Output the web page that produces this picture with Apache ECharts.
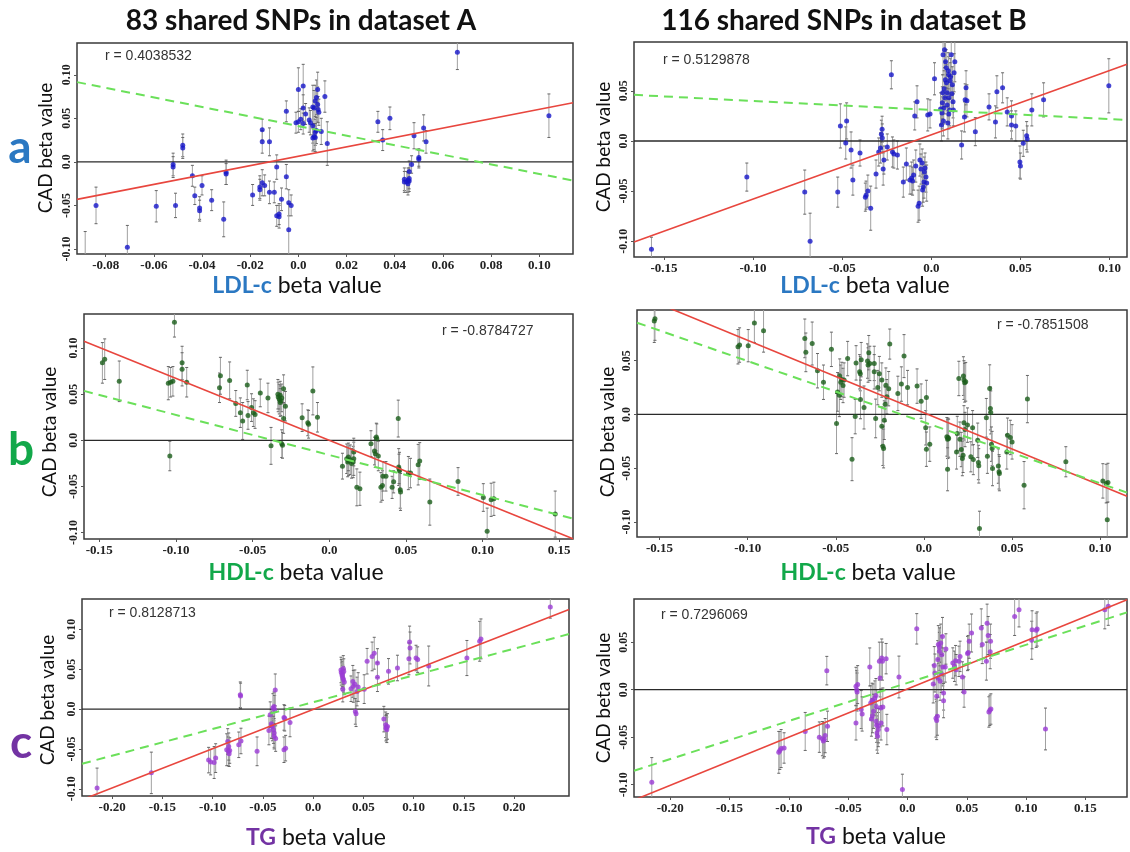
<!DOCTYPE html>
<html>
<head>
<meta charset="utf-8">
<script src="https://cdn.jsdelivr.net/npm/echarts@6/dist/echarts.min.js"></script>
<style>html,body{margin:0;padding:0;background:#fff}#c{width:1130px;height:852px}</style>
</head>
<body>
<div id="c"></div>
<script>
// ---- data: [x beta, CAD beta, CAD SE] ----
const A_LDL = [
[-0.084,-0.050,0.021],[-0.071,-0.098,0.025],[-0.059,-0.051,0.018],[-0.052,-0.003,0.013],[-0.052,-0.006,0.012],
[-0.051,-0.050,0.014],[-0.048,0.019,0.013],[-0.048,0.016,0.012],[-0.044,-0.016,0.012],[-0.043,-0.039,0.010],
[-0.041,-0.053,0.013],[-0.041,-0.056,0.012],[-0.040,-0.027,0.011],[-0.036,-0.044,0.012],[-0.031,-0.066,0.020],
[-0.030,-0.012,0.014],[-0.030,-0.014,0.012],[-0.019,-0.038,0.012],[-0.016,-0.029,0.013],[-0.016,-0.032,0.012],
[-0.015,-0.024,0.015],[-0.015,0.037,0.012],[-0.015,0.023,0.013],[-0.012,0.023,0.016],[-0.012,-0.035,0.013],
[-0.010,-0.035,0.012],[-0.009,-0.062,0.012],[-0.008,-0.063,0.013],[-0.008,-0.060,0.012],[-0.009,-0.006,0.014],
[-0.007,-0.043,0.013],[-0.005,-0.017,0.014],[-0.005,0.058,0.012],[-0.004,-0.047,0.015],[-0.003,-0.050,0.012],
[-0.004,-0.078,0.030],[-0.001,0.045,0.012],[0.000,0.046,0.012],[0.000,0.083,0.025],[0.001,0.049,0.012],
[0.002,0.087,0.025],[0.002,0.062,0.015],[0.003,0.055,0.012],[0.002,0.044,0.012],[0.006,0.063,0.025],
[0.0065,0.062,0.020],[0.007,0.070,0.018],[0.008,0.066,0.020],[0.0075,0.074,0.020],[0.006,0.0415,0.020],
[0.006,0.0275,0.015],[0.0065,0.029,0.015],[0.007,0.034,0.015],[0.0075,0.036,0.015],[0.008,0.083,0.020],
[0.0085,0.057,0.015],[0.0095,0.035,0.015],[0.011,0.075,0.018],[0.012,0.021,0.025],[0.033,0.046,0.012],
[0.035,0.025,0.012],[0.038,0.050,0.013],[0.044,-0.020,0.013],[0.045,-0.023,0.012],[0.0455,-0.021,0.014],
[0.046,-0.022,0.012],[0.0455,-0.025,0.013],[0.044,-0.023,0.012],[0.046,-0.011,0.012],[0.047,-0.003,0.010],
[0.048,0.030,0.015],[0.050,0.003,0.010],[0.050,0.005,0.010],[0.052,0.039,0.015],[0.053,0.023,0.013],
[0.066,0.126,0.020],[0.104,0.053,0.025],[0.0045,0.048,0.014],[0.005,0.045,0.014],[0.0082,0.060,0.015],
[-0.014,-0.027,0.012],[0.046,-0.019,0.012],[0.007,0.028,0.016],[-0.0885,-0.130,0.050]
];
const B_LDL = [
[-0.157,-0.108,0.012],[-0.1035,-0.036,0.014],[-0.071,-0.051,0.022],[-0.068,-0.100,0.028],[-0.0525,-0.051,0.015],
[-0.051,0.015,0.022],[-0.048,-0.002,0.016],[-0.0475,0.020,0.018],[-0.045,-0.009,0.018],[-0.044,-0.039,0.015],
[-0.040,-0.012,0.013],[-0.037,-0.056,0.014],[-0.0366,-0.054,0.014],[-0.0356,-0.050,0.016],[-0.034,-0.067,0.022],
[-0.031,-0.033,0.014],[-0.0295,-0.011,0.014],[-0.0285,-0.007,0.015],[-0.028,0.0067,0.014],[-0.0276,0.0117,0.013],
[-0.027,-0.028,0.016],[-0.0266,-0.019,0.014],[-0.0247,-0.006,0.013],[-0.0224,0.066,0.014],[-0.0218,-0.011,0.015],
[-0.021,-0.013,0.014],[-0.019,-0.014,0.014],[-0.0157,-0.041,0.015],[-0.014,-0.023,0.016],[-0.011,-0.037,0.016],
[-0.0105,-0.040,0.014],[-0.0099,-0.034,0.015],[-0.0093,0.025,0.014],[-0.0087,-0.025,0.016],[-0.008,0.039,0.016],
[-0.0074,-0.065,0.016],[-0.0068,-0.062,0.017],[-0.0064,-0.019,0.016],[-0.0051,-0.022,0.014],[-0.0049,-0.049,0.016],
[-0.0045,-0.046,0.015],[-0.0041,-0.041,0.016],[-0.0039,-0.031,0.015],[-0.0035,-0.027,0.015],[-0.003,-0.036,0.015],
[-0.0026,-0.042,0.018],[-0.002,0.026,0.016],[-0.0007,0.027,0.014],[0.0018,0.062,0.016],[0.0057,0.016,0.016],
[0.006,0.028,0.016],[0.0064,0.048,0.018],[0.0066,0.086,0.020],[0.0074,0.091,0.018],[0.008,0.079,0.020],
[0.0084,0.073,0.018],[0.0085,0.058,0.018],[0.0089,0.048,0.018],[0.0089,0.036,0.017],[0.0093,0.018,0.016],
[0.0097,0.066,0.018],[0.0099,0.043,0.018],[0.0103,0.031,0.016],[0.0108,0.064,0.018],[0.0112,0.086,0.020],
[0.0118,0.056,0.018],[0.0122,0.039,0.016],[0.0132,0.079,0.020],[0.0124,0.031,0.016],[0.007,0.033,0.016],
[0.0076,0.043,0.016],[0.0068,0.020,0.015],[0.0105,0.060,0.018],[0.0095,0.070,0.018],[0.017,-0.004,0.014],
[0.0186,0.024,0.015],[0.019,0.041,0.016],[0.0195,0.053,0.017],[0.020,0.040,0.016],[0.0247,0.0093,0.014],
[0.0324,0.034,0.013],[0.036,0.019,0.016],[0.0368,0.049,0.016],[0.040,0.053,0.015],[0.0426,0.029,0.014],
[0.045,0.025,0.015],[0.045,0.016,0.014],[0.0474,0.015,0.015],[0.0497,-0.021,0.016],[0.050,-0.025,0.013],
[0.0516,-0.0023,0.013],[0.0535,0.0053,0.014],[0.0538,0.002,0.013],[0.0564,0.031,0.016],[0.063,0.041,0.017],
[0.0996,0.055,0.027],[0.0072,0.052,0.018],[0.0115,0.047,0.017],[0.0062,0.038,0.016],[-0.0058,-0.028,0.015],
[-0.012,-0.039,0.014],[0.0128,0.068,0.019],[0.0079,0.061,0.018],[-0.0275,0.003,0.014],[0.0052,0.032,0.016],
[0.0098,0.027,0.015]
];
const A_HDL = [
[-0.148,0.084,0.022],[-0.1465,0.088,0.022],[-0.137,0.064,0.022],[-0.105,0.062,0.018],[-0.1035,0.063,0.016],
[-0.102,0.064,0.016],[-0.104,-0.017,0.016],[-0.101,0.128,0.016],[-0.096,0.084,0.018],[-0.096,0.077,0.018],
[-0.093,0.063,0.016],[-0.0716,0.057,0.016],[-0.071,0.070,0.020],[-0.065,0.065,0.020],[-0.061,0.040,0.014],
[-0.058,0.030,0.016],[-0.0565,0.021,0.020],[-0.0535,0.060,0.016],[-0.053,0.027,0.015],[-0.0507,0.0355,0.015],
[-0.0495,0.030,0.015],[-0.0484,0.028,0.015],[-0.045,0.0514,0.015],[-0.040,0.046,0.016],[-0.038,-0.006,0.020],
[-0.0333,0.047,0.016],[-0.0326,0.0446,0.016],[-0.032,0.049,0.015],[-0.0316,0.043,0.016],[-0.031,0.046,0.015],
[-0.031,-0.0036,0.015],[-0.0305,-0.0054,0.014],[-0.0298,0.056,0.015],[-0.0298,0.0236,0.016],[-0.0286,0.037,0.016],
[-0.0177,0.0246,0.015],[-0.014,0.019,0.014],[-0.0135,0.0174,0.015],[-0.0107,0.0536,0.026],[-0.0077,0.025,0.016],
[0.0086,-0.028,0.014],[0.0114,-0.020,0.016],[0.012,-0.0235,0.016],[0.0127,-0.022,0.016],[0.0137,-0.021,0.016],
[0.0156,-0.0235,0.017],[0.016,-0.020,0.018],[0.016,-0.0127,0.015],[0.018,-0.051,0.020],[0.020,-0.0525,0.018],
[0.0272,-0.0036,0.014],[0.0295,-0.0116,0.015],[0.030,-0.0145,0.015],[0.0307,0.0036,0.015],[0.031,0.0018,0.016],
[0.032,-0.017,0.016],[0.0337,-0.051,0.016],[0.0347,-0.049,0.016],[0.035,-0.039,0.016],[0.037,-0.039,0.016],
[0.041,-0.051,0.012],[0.042,-0.045,0.012],[0.045,0.0236,0.020],[0.0453,-0.029,0.020],[0.0458,-0.033,0.020],
[0.0463,-0.0536,0.020],[0.0465,-0.056,0.020],[0.0516,-0.0355,0.018],[0.053,-0.0355,0.016],[0.058,-0.0264,0.022],
[0.059,-0.0225,0.020],[0.0656,-0.067,0.025],[0.084,-0.0446,0.015],[0.1005,-0.062,0.015],[0.103,-0.0985,0.025],
[0.1056,-0.0645,0.018],[0.1074,-0.0634,0.018],[0.1474,-0.080,0.025],[-0.0335,0.050,0.016],[0.0125,-0.018,0.015],
[0.0455,-0.031,0.016],[0.0145,-0.025,0.016],[-0.032,0.041,0.015]
];
const B_HDL = [
[-0.153,0.087,0.02],[-0.1526,0.089,0.02],[-0.1055,0.063,0.016],[-0.1046,0.0646,0.016],[-0.0997,0.064,0.015],
[-0.0962,0.085,0.018],[-0.091,0.078,0.02],[-0.0676,0.0708,0.018],[-0.067,0.0578,0.018],[-0.0634,0.066,0.02],
[-0.0604,0.0407,0.016],[-0.057,0.030,0.016],[-0.0525,0.0606,0.016],[-0.0496,-0.0084,0.028],[-0.049,0.021,0.018],
[-0.048,0.018,0.02],[-0.0478,0.0357,0.016],[-0.0472,0.030,0.016],[-0.0466,0.0326,0.016],[-0.0459,0.027,0.016],
[-0.0453,0.032,0.016],[-0.0433,0.052,0.016],[-0.0408,-0.0416,0.02],[-0.039,-0.002,0.016],[-0.0385,0.048,0.016],
[-0.0365,0.0397,0.016],[-0.0361,0.038,0.016],[-0.036,0.014,0.018],[-0.0356,0.051,0.016],[-0.034,0.0065,0.02],
[-0.032,0.0497,0.016],[-0.0317,0.046,0.016],[-0.0313,0.0575,0.016],[-0.0307,0.0475,0.016],[-0.0282,0.0475,0.016],
[-0.0282,0.0397,0.016],[-0.0274,-0.0037,0.018],[-0.0262,0.025,0.016],[-0.0253,0.038,0.016],[-0.0239,0.032,0.016],
[-0.0239,-0.011,0.018],[-0.0233,-0.0295,0.018],[-0.0229,-0.0317,0.018],[-0.0225,-0.0053,0.018],[-0.022,0.0096,0.016],
[-0.0216,0.0273,0.016],[-0.021,0.0165,0.016],[-0.020,0.024,0.016],[-0.0194,0.0655,0.014],[-0.0148,0.0196,0.016],
[-0.0128,0.0283,0.016],[-0.0113,0.0543,0.02],[-0.0093,0.025,0.016],[-0.0039,0.0264,0.016],[-0.0016,0.0124,0.016],
[0.001,-0.0124,0.016],[0.0014,0.0158,0.016],[0.0014,-0.0323,0.016],[0.0033,-0.0276,0.016],[0.013,-0.0208,0.018],
[0.0134,-0.023,0.018],[0.0137,-0.0215,0.018],[0.014,-0.0224,0.018],[0.0134,-0.051,0.02],[0.0185,-0.0348,0.016],
[0.0189,-0.0177,0.016],[0.0198,0.0335,0.016],[0.0204,-0.023,0.016],[0.0212,-0.0326,0.016],[0.0218,-0.041,0.016],
[0.0224,0.0357,0.018],[0.0227,0.032,0.018],[0.0231,0.0295,0.018],[0.0237,0.0304,0.018],[0.0227,-0.0078,0.016],
[0.0222,-0.038,0.016],[0.0233,-0.014,0.016],[0.0247,-0.0099,0.016],[0.0266,-0.0394,0.014],[0.028,-0.042,0.014],
[0.0276,-0.0124,0.016],[0.0309,-0.0447,0.016],[0.0311,-0.0478,0.016],[0.0305,-0.024,0.016],[0.0315,-0.106,0.016],
[0.0354,-0.0031,0.018],[0.036,-0.0388,0.016],[0.0373,0.0242,0.022],[0.0377,0.0056,0.02],[0.0379,0.0019,0.02],
[0.0383,-0.0276,0.016],[0.0387,-0.0317,0.016],[0.0389,-0.0503,0.016],[0.0422,-0.048,0.016],[0.0426,-0.0534,0.016],
[0.0428,-0.055,0.016],[0.047,-0.0348,0.016],[0.0474,-0.0193,0.016],[0.049,-0.0214,0.016],[0.050,-0.0255,0.016],
[0.0568,-0.0658,0.022],[0.0587,0.0143,0.022],[0.0805,-0.044,0.014],[0.1015,-0.0618,0.016],[0.1034,-0.0643,0.018],
[0.1044,-0.0634,0.018],[0.104,-0.098,0.016]
];
const A_TG = [
[-0.215,-0.099,0.025],[-0.161,-0.080,0.026],[-0.104,-0.064,0.016],[-0.102,-0.0665,0.016],[-0.0985,-0.067,0.02],
[-0.097,-0.0615,0.018],[-0.086,-0.051,0.02],[-0.085,-0.0406,0.016],[-0.0843,-0.053,0.018],[-0.0836,-0.056,0.016],
[-0.083,-0.052,0.016],[-0.074,-0.0448,0.016],[-0.0725,0.018,0.016],[-0.0722,0.0165,0.016],[-0.0718,-0.040,0.016],
[-0.0558,-0.053,0.018],[-0.044,-0.0268,0.018],[-0.0427,-0.007,0.016],[-0.0416,-0.0184,0.018],[-0.0405,-0.0218,0.018],
[-0.040,0.0013,0.018],[-0.039,0.0033,0.018],[-0.0383,-0.001,0.018],[-0.0388,-0.030,0.018],[-0.0377,0.024,0.02],
[-0.0373,-0.037,0.016],[-0.0388,-0.034,0.016],[-0.029,-0.0105,0.016],[-0.0283,-0.0115,0.016],[-0.029,-0.051,0.016],
[-0.0274,-0.049,0.016],[-0.023,-0.0167,0.018],[0.0277,0.049,0.016],[0.028,0.046,0.016],[0.0288,0.042,0.016],
[0.0295,0.039,0.016],[0.030,0.051,0.016],[0.0302,0.037,0.016],[0.0295,0.025,0.016],[0.0377,0.0255,0.016],
[0.0395,0.0347,0.02],[0.040,0.0285,0.02],[0.042,-0.003,0.016],[0.0427,-0.0059,0.016],[0.0437,0.022,0.018],
[0.0448,0.0276,0.018],[0.0508,0.025,0.018],[0.0537,0.060,0.016],[0.0587,0.066,0.018],[0.0608,0.070,0.02],
[0.064,0.0577,0.018],[0.064,0.040,0.018],[0.0704,-0.0126,0.016],[0.0722,-0.0197,0.016],[0.0729,-0.0226,0.016],
[0.0733,-0.026,0.016],[0.074,-0.0218,0.016],[0.075,0.0473,0.016],[0.0839,0.0515,0.016],[0.096,0.084,0.02],
[0.0964,0.0766,0.02],[0.0953,0.063,0.02],[0.1024,0.064,0.016],[0.104,0.062,0.016],[0.115,0.054,0.025],
[0.153,0.064,0.022],[0.1657,0.085,0.025],[0.167,0.088,0.025],[0.236,0.128,0.014],[0.029,0.044,0.016],
[0.0305,0.047,0.016],[-0.0395,-0.026,0.017],[0.0725,-0.024,0.016],[-0.084,-0.047,0.017],[0.0415,0.031,0.018],
[-0.0412,-0.021,0.016],[0.031,0.034,0.016]
];
const B_TG = [
[-0.2155,-0.0975,0.026],[-0.1085,-0.066,0.022],[-0.1076,-0.064,0.02],[-0.1065,-0.062,0.02],[-0.104,-0.0614,0.016],
[-0.0862,-0.044,0.02],[-0.0743,-0.050,0.016],[-0.0717,-0.0516,0.018],[-0.0709,-0.054,0.018],[-0.070,-0.0526,0.018],
[-0.0694,-0.0484,0.018],[-0.068,0.020,0.015],[-0.0674,-0.0386,0.016],[-0.0434,0.0035,0.02],[-0.0428,0.0,0.02],
[-0.0425,-0.0025,0.02],[-0.042,0.0053,0.02],[-0.0434,-0.035,0.018],[-0.039,-0.021,0.02],[-0.0382,-0.0256,0.018],
[-0.0318,0.0239,0.02],[-0.031,-0.014,0.018],[-0.0298,-0.0112,0.018],[-0.029,-0.012,0.018],[-0.0304,-0.031,0.018],
[-0.0295,-0.0274,0.018],[-0.0286,-0.0228,0.018],[-0.0275,-0.0088,0.018],[-0.0266,-0.0063,0.018],[-0.0266,-0.0333,0.018],
[-0.026,-0.0375,0.018],[-0.0257,-0.0456,0.018],[-0.0252,-0.049,0.018],[-0.0246,-0.042,0.018],[-0.0237,0.030,0.02],
[-0.0231,0.0123,0.02],[-0.0226,-0.0193,0.02],[-0.0223,-0.035,0.018],[-0.0217,0.0333,0.02],[-0.0211,0.030,0.02],
[-0.0208,-0.0182,0.02],[-0.0174,-0.042,0.016],[-0.018,0.0326,0.016],[-0.0072,0.0133,0.022],[-0.0043,-0.105,0.016],
[0.0078,0.064,0.016],[0.0217,0.006,0.02],[0.0226,0.0253,0.02],[0.0231,0.0175,0.02],[0.024,-0.030,0.02],
[0.0246,-0.0326,0.02],[0.0252,-0.028,0.02],[0.0246,-0.007,0.02],[0.0255,0.0316,0.02],[0.026,0.0474,0.02],
[0.0269,0.0403,0.02],[0.0275,0.0088,0.02],[0.028,0.049,0.02],[0.0289,0.0368,0.02],[0.0295,0.056,0.02],
[0.0298,0.0239,0.02],[0.0304,-0.0035,0.018],[0.0304,-0.0116,0.018],[0.0318,0.0239,0.016],[0.0324,0.0428,0.016],
[0.0382,0.028,0.016],[0.0396,0.0246,0.016],[0.0405,0.0305,0.016],[0.041,0.021,0.016],[0.0434,0.0298,0.016],
[0.0443,0.035,0.016],[0.0463,0.0133,0.016],[0.0477,-0.0025,0.016],[0.0506,0.038,0.018],[0.0512,0.039,0.018],
[0.052,0.051,0.018],[0.054,0.0596,0.02],[0.0622,0.065,0.02],[0.063,0.0474,0.02],[0.0665,0.030,0.02],
[0.0671,0.070,0.02],[0.068,0.057,0.02],[0.0686,-0.0235,0.016],[0.0694,-0.0218,0.016],[0.0703,-0.0204,0.016],
[0.070,0.051,0.018],[0.0697,0.040,0.018],[0.0903,0.077,0.02],[0.094,0.084,0.018],[0.1047,0.052,0.02],
[0.105,0.063,0.02],[0.1085,0.0625,0.018],[0.1093,0.0638,0.018],[0.1163,-0.0414,0.022],[0.1663,0.084,0.02],
[0.1692,0.0877,0.02],[0.027,0.045,0.02],[-0.0244,-0.038,0.018],[0.0285,0.017,0.02],[-0.0262,-0.018,0.018],
[0.0258,0.012,0.02]
];

// regression lines: [intercept, slope]
const RED_FITS   = [[0.0065,0.539],[0.0062,0.641],[0.0,-0.671],[0.0016,-0.674],[-0.0005,0.492],[0.0008,0.5076]];
const GREEN_FITS = [[0.0411,-0.549],[0.0309,-0.0904],[-0.0159,-0.4345],[-0.0072,-0.5687],[0.0086,0.3355],[0.0071,0.401]];
const R_VALUES = ['r = 0.4038532','r = 0.5129878','r = -0.8784727','r = -0.7851508','r = 0.8128713','r = 0.7296069'];

// axis ranges and tick labels
const X_RANGES = [[-0.0919,0.114],[-0.1668,0.1098],[-0.160,0.159],[-0.1628,0.1152],[-0.230,0.2546],[-0.2305,0.185]];
const Y_RANGES = [[-0.1058,0.1365],[-0.1157,0.0987],[-0.107,0.137],[-0.114,0.0972],[-0.109,0.138],[-0.113,0.0954]];
const X_TICKS = [
  [-0.08,-0.06,-0.04,-0.02,0,0.02,0.04,0.06,0.08,0.10],
  [-0.15,-0.10,-0.05,0,0.05,0.10],
  [-0.15,-0.10,-0.05,0,0.05,0.10,0.15],
  [-0.15,-0.10,-0.05,0,0.05,0.10],
  [-0.20,-0.15,-0.10,-0.05,0,0.05,0.10,0.15,0.20],
  [-0.20,-0.15,-0.10,-0.05,0,0.05,0.10,0.15]
];
const Y_TICKS = [
  [-0.10,-0.05,0,0.05,0.10],
  [-0.10,-0.05,0,0.05],
  [-0.10,-0.05,0,0.05,0.10],
  [-0.10,-0.05,0,0.05],
  [-0.10,-0.05,0,0.05,0.10],
  [-0.10,-0.05,0,0.05]
];
const COLUMN_TITLES = ['83 shared SNPs in dataset A','116 shared SNPs in dataset B'];
const ROW_LETTERS = ['a','b','c'];
const TRAITS = ['LDL-c','HDL-c','TG'];

// ---- presentation ----
const DATA = [A_LDL,B_LDL,A_HDL,B_HDL,A_TG,B_TG];
const TRAIT_COLORS = ['#2b78c2','#12a84a','#7333a3'];
const POINT_COLORS = ['#1717c9','#1a5e1a','#9b3bd6'];
// grid boxes [left, top, right, bottom] in px
const BOXES = [[77,43,573,254],[634,42,1127,257],[84,314,573,539],[637,310,1127,537],[82,599,569,796],[634,599,1127,797]];
const R_POS = [[105,56],[663,60],[442,331],[997,325],[109,613],[661,615]];
const XNAME_POS = [[297,286],[865,286],[296,573],[868,573],[316,838],[876,837]];
const YNAME_POS = [[46,148],[604,147],[50,432],[608,432],[48,700],[604,698]];

const fmt = v => Math.abs(v) < 1e-9 ? '0.0' : v.toFixed(2);

const grids=[], xAxes=[], yAxes=[], series=[], graphics=[];
for (let i=0;i<6;i++){
  const b=BOXES[i];
  grids.push({left:b[0], top:b[1], width:b[2]-b[0], height:b[3]-b[1], show:true, borderColor:'#3a3a3a', borderWidth:1.5, backgroundColor:'rgba(0,0,0,0)'});
  const lab = {fontFamily:'Liberation Serif', fontWeight:'bold', color:'#222', formatter:fmt};
  xAxes.push({type:'value', gridIndex:i, min:X_RANGES[i][0], max:X_RANGES[i][1], position:'bottom',
    axisLine:{show:false, onZero:false},
    splitLine:{show:false},
    axisTick:{show:true, length:3, customValues:X_TICKS[i], lineStyle:{color:'#555'}},
    axisLabel:Object.assign({customValues:X_TICKS[i], fontSize:13, margin:5, hideOverlap:false}, lab)});
  yAxes.push({type:'value', gridIndex:i, min:Y_RANGES[i][0], max:Y_RANGES[i][1], position:'left',
    axisLine:{show:false, onZero:false},
    splitLine:{show:false},
    axisTick:{show:true, length:3, customValues:Y_TICKS[i], lineStyle:{color:'#555'}},
    axisLabel:Object.assign({customValues:Y_TICKS[i], fontSize:12, margin:4, rotate:90, hideOverlap:false}, lab)});
  const xr=X_RANGES[i];
  // error bars
  series.push({type:'custom', xAxisIndex:i, yAxisIndex:i, data:DATA[i], clip:true, z:2,
    encode:{x:0,y:1},
    renderItem:(params,api)=>{
      const x=api.value(0), y=api.value(1), se=api.value(2);
      const t=api.coord([x,y+se]), bt=api.coord([x,y-se]);
      const st={stroke:'#a0a0a0', lineWidth:1};
      return {type:'group', children:[
        {type:'line', shape:{x1:t[0],y1:t[1],x2:bt[0],y2:bt[1]}, style:st},
        {type:'line', shape:{x1:t[0]-1.5,y1:t[1],x2:t[0]+1.5,y2:t[1]}, style:{stroke:'#666',lineWidth:1}},
        {type:'line', shape:{x1:bt[0]-1.5,y1:bt[1],x2:bt[0]+1.5,y2:bt[1]}, style:{stroke:'#666',lineWidth:1}}
      ]};
    }});
  // zero line
  series.push({type:'line', xAxisIndex:i, yAxisIndex:i, data:[[xr[0],0],[xr[1],0]], symbol:'none', silent:true, z:3,
    lineStyle:{color:'#2a2a2a', width:1.3}});
  // points
  series.push({type:'scatter', xAxisIndex:i, yAxisIndex:i, data:DATA[i].map(d=>[d[0],d[1]]), symbolSize:5, z:4,
    itemStyle:{color:POINT_COLORS[Math.floor(i/2)]}});
  const rf=RED_FITS[i], gf=GREEN_FITS[i];
  series.push({type:'line', xAxisIndex:i, yAxisIndex:i, data:[[xr[0],rf[0]+rf[1]*xr[0]],[xr[1],rf[0]+rf[1]*xr[1]]], symbol:'none', clip:true, z:5,
    lineStyle:{color:'#e8463e', width:1.6}});
  series.push({type:'line', xAxisIndex:i, yAxisIndex:i, data:[[xr[0],gf[0]+gf[1]*xr[0]],[xr[1],gf[0]+gf[1]*xr[1]]], symbol:'none', clip:true, z:5,
    lineStyle:{color:'#6be05a', width:2, type:[9,6]}});
  // r text
  graphics.push({type:'text', x:R_POS[i][0], y:R_POS[i][1], style:{text:R_VALUES[i], font:'14px "Liberation Sans"', fill:'#333', textAlign:'left', textVerticalAlign:'middle'}});
  // x axis name
  const r=Math.floor(i/2);
  graphics.push({type:'text', x:XNAME_POS[i][0], y:XNAME_POS[i][1], style:{
    text:'{t|'+TRAITS[r]+'}{k| beta value}', textAlign:'center', textVerticalAlign:'middle',
    rich:{t:{fontFamily:'Lato', fontWeight:'bold', fontSize:23, fill:TRAIT_COLORS[r], color:TRAIT_COLORS[r]},
          k:{fontFamily:'Lato', fontSize:23, fill:'#111', color:'#111'}}}});
  // y axis name
  graphics.push({type:'text', x:YNAME_POS[i][0], y:YNAME_POS[i][1], rotation:Math.PI/2, style:{text:'CAD beta value', font:'19px Lato', fill:'#111', textAlign:'center', textVerticalAlign:'middle'}});
}
// column titles
graphics.push({type:'text', x:301, y:21, style:{text:COLUMN_TITLES[0], font:'bold 28px Lato', fill:'#111', textAlign:'center', textVerticalAlign:'middle'}});
graphics.push({type:'text', x:844, y:21, style:{text:COLUMN_TITLES[1], font:'bold 28px Lato', fill:'#111', textAlign:'center', textVerticalAlign:'middle'}});
// row letters
const LETTER_POS=[[20,148],[21,450],[21,743]];
for (let r=0;r<3;r++){
  graphics.push({type:'text', x:LETTER_POS[r][0], y:LETTER_POS[r][1], style:{text:ROW_LETTERS[r], font:'bold 46px Lato', fill:TRAIT_COLORS[r], textAlign:'center', textVerticalAlign:'middle'}});
}

const chart = echarts.init(document.getElementById('c'));
chart.setOption({animation:false, backgroundColor:'#fff', grid:grids, xAxis:xAxes, yAxis:yAxes, series:series, graphic:graphics});
</script>
</body>
</html>
